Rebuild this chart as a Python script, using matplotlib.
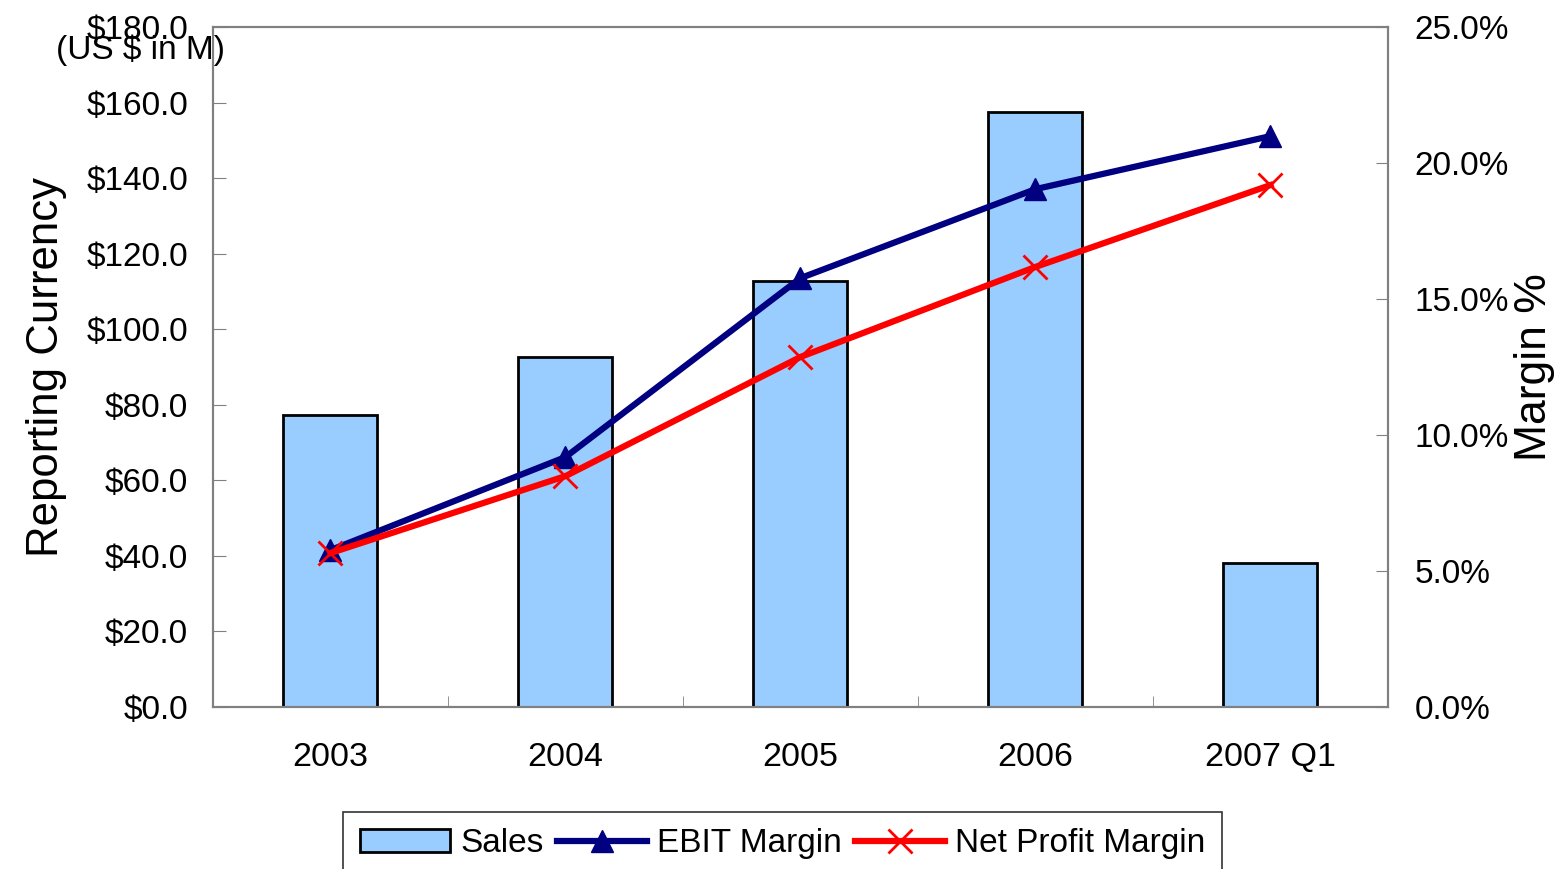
import numpy as np
import matplotlib.pyplot as plt
from matplotlib.ticker import FuncFormatter

plt.rcParams['font.family'] = ['Liberation Sans', 'DejaVu Sans']

# Data
years = ['2003', '2004', '2005', '2006', '2007 Q1']
sales = [77.3, 92.6, 112.8, 157.5, 38.1]          # US $ in M
ebit_margin = [5.77, 9.19, 15.77, 19.04, 20.99]   # %
net_margin = [5.66, 8.49, 12.87, 16.18, 19.19]    # %

x = np.arange(len(years))
grey = '#808080'

fig = plt.figure(figsize=(15.65, 8.69), dpi=100)
ax = fig.add_axes([0.1361, 0.1864, 0.7508, 0.7825])
ax2 = ax.twinx()

bars = ax.bar(x, sales, width=0.4, color='#99ccff', edgecolor='black', lw=2, label='Sales', zorder=2)
l1, = ax2.plot(x, ebit_margin, color='#000080', lw=4.5, marker='^', ms=16, label='EBIT Margin')
l2, = ax2.plot(x, net_margin, color='red', lw=4.5, marker='x', ms=17, mew=2, label='Net Profit Margin')

ax.set_xlim(-0.5, 4.5)
ax.set_ylim(0, 180)
ax.set_yticks(np.arange(0, 181, 20))
ax.yaxis.set_major_formatter(FuncFormatter(lambda v, p: f'${v:.1f}'))
ax2.set_ylim(0, 25)
ax2.set_yticks(np.arange(0, 26, 5))
ax2.yaxis.set_major_formatter(FuncFormatter(lambda v, p: f'{v:.1f}%'))

ax.set_xticks(x)
ax.set_xticklabels(years)
ax.set_xticks(np.arange(-0.5, 4.6, 1), minor=True)
ax.tick_params(axis='x', which='major', length=0, labelsize=24.5, pad=25)
ax.tick_params(axis='x', which='minor', direction='in', length=8, color=grey)
ax.tick_params(axis='y', direction='in', length=9, color=grey, labelsize=24, pad=18)
ax2.tick_params(axis='y', direction='in', length=9, color=grey, labelsize=24, pad=19)

for a in (ax, ax2):
    for s in a.spines.values():
        s.set_color(grey)
        s.set_linewidth(1.5)

ax.set_ylabel('Reporting Currency', fontsize=31.5, labelpad=14)
ax2.set_ylabel('Margin %', fontsize=32, labelpad=4)
fig.text(0.0895, 0.942, '(US $ in M)', fontsize=24, ha='center', va='center')

leg = fig.legend(handles=[bars, l1, l2], loc='upper center', bbox_to_anchor=(0.5, 0.085),
                 ncol=3, fontsize=24, frameon=True, fancybox=False, edgecolor='black',
                 handlelength=2.7, handletextpad=0.3, columnspacing=0.4, borderpad=0.5)
leg.get_frame().set_linewidth(1.2)

fig.savefig('out.png', dpi=100)
